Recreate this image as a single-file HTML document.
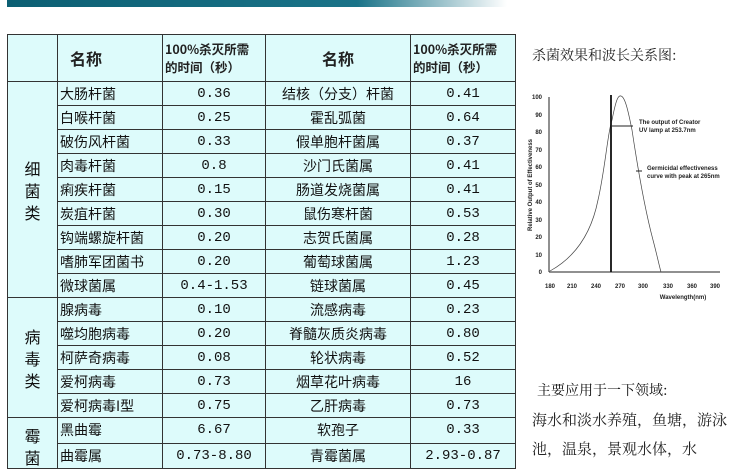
<!DOCTYPE html>
<html><head><meta charset="utf-8"><style>
body{margin:0;width:750px;height:463px;overflow:hidden;background:#fff;position:relative;font-family:"Liberation Sans","Noto Sans CJK SC",sans-serif}
.ban{position:absolute;left:7px;top:0;width:500px;height:7px;background:linear-gradient(90deg,#0c5f73 0%,#1a7388 70%,#fff 100%)}
table{position:absolute;left:7px;top:34px;border-collapse:collapse;background:#ddfbfb;font-family:"Noto Sans CJK SC",sans-serif;font-size:14px;color:#111}
td{border:1px solid #333;height:23px;padding:0 2px;text-align:center;white-space:nowrap;overflow:hidden}
td.l{text-align:left}
td.m{font-family:"Liberation Mono",monospace;font-size:14px}
tr.h td{height:46px}
.h .s{font-size:12.5px;font-weight:bold;text-align:left;line-height:18px;color:#222}
.h .n{font-size:16px;font-weight:bold;color:#222}
.c{line-height:22px;font-size:16px}
.t{position:absolute;font-family:"Noto Serif CJK SC",serif;color:#222}
</style></head><body>
<div class="ban"></div>
<table>
<colgroup><col style="width:50px"><col style="width:105px"><col style="width:103px"><col style="width:145px"><col style="width:105px"></colgroup>
<tr class="h"><td></td><td class="n l" style="padding-left:12px">名称</td><td class="s">100%杀灭所需<br>的时间（秒）</td><td class="n">名称</td><td class="s">100%杀灭所需<br>的时间（秒）</td></tr>
<tr><td rowspan="9" class="c">细<br>菌<br>类</td><td class="l">大肠杆菌</td><td class="m">0.36</td><td>结核（分支）杆菌</td><td class="m">0.41</td></tr>
<tr><td class="l">白喉杆菌</td><td class="m">0.25</td><td>霍乱弧菌</td><td class="m">0.64</td></tr>
<tr><td class="l">破伤风杆菌</td><td class="m">0.33</td><td>假单胞杆菌属</td><td class="m">0.37</td></tr>
<tr><td class="l">肉毒杆菌</td><td class="m">0.8</td><td>沙门氏菌属</td><td class="m">0.41</td></tr>
<tr><td class="l">痢疾杆菌</td><td class="m">0.15</td><td>肠道发烧菌属</td><td class="m">0.41</td></tr>
<tr><td class="l">炭疽杆菌</td><td class="m">0.30</td><td>鼠伤寒杆菌</td><td class="m">0.53</td></tr>
<tr><td class="l">钩端螺旋杆菌</td><td class="m">0.20</td><td>志贺氏菌属</td><td class="m">0.28</td></tr>
<tr><td class="l">嗜肺军团菌书</td><td class="m">0.20</td><td>葡萄球菌属</td><td class="m">1.23</td></tr>
<tr><td class="l">微球菌属</td><td class="m">0.4-1.53</td><td>链球菌属</td><td class="m">0.45</td></tr>
<tr><td rowspan="5" class="c">病<br>毒<br>类</td><td class="l">腺病毒</td><td class="m">0.10</td><td>流感病毒</td><td class="m">0.23</td></tr>
<tr><td class="l">噬均胞病毒</td><td class="m">0.20</td><td>脊髓灰质炎病毒</td><td class="m">0.80</td></tr>
<tr><td class="l">柯萨奇病毒</td><td class="m">0.08</td><td>轮状病毒</td><td class="m">0.52</td></tr>
<tr><td class="l">爱柯病毒</td><td class="m">0.73</td><td>烟草花叶病毒</td><td class="m">16</td></tr>
<tr><td class="l">爱柯病毒I型</td><td class="m">0.75</td><td>乙肝病毒</td><td class="m">0.73</td></tr>
<tr><td rowspan="2" class="c" style="vertical-align:top;padding-top:6px">霉<br>菌</td><td class="l">黑曲霉</td><td class="m">6.67</td><td>软孢子</td><td class="m">0.33</td></tr>
<tr><td class="l">曲霉属</td><td class="m">0.73-8.80</td><td>青霉菌属</td><td class="m">2.93-0.87</td></tr>
</table>
<div class="t" style="left:532px;top:45px;font-size:14px">杀菌效果和波长关系图:</div>
<svg style="position:absolute;left:520px;top:80px" width="230" height="230" viewBox="0 0 230 230" font-family="Liberation Sans,sans-serif" font-size="6" font-weight="bold" fill="#222">
<line x1="29" y1="17" x2="29" y2="192" stroke="#222" stroke-width="1"/>
<line x1="29" y1="192" x2="200" y2="192" stroke="#222" stroke-width="1"/>
<g text-anchor="end">
<text x="22" y="194">0</text><text x="22" y="177">10</text><text x="22" y="159">20</text><text x="22" y="142">30</text><text x="22" y="124">40</text><text x="22" y="107">50</text><text x="22" y="89">60</text><text x="22" y="72">70</text><text x="22" y="54">80</text><text x="22" y="37">90</text><text x="22" y="19">100</text></g>
<g text-anchor="middle">
<text x="30" y="208">180</text><text x="52" y="208">210</text><text x="76" y="208">240</text><text x="100" y="208">270</text><text x="123" y="208">300</text><text x="148" y="208">330</text><text x="172" y="208">360</text><text x="195" y="208">390</text></g>
<text x="163" y="219" text-anchor="middle">Wavelength(nm)</text>
<text transform="translate(12,105) rotate(-90)" text-anchor="middle">Relative Output of Effectiveness</text>
<path d="M30,191 C50,180 70,160 78,120 C85,90 88,50 92,40 C96,20 98,15 101,16 C105,17 108,30 112,50 C118,90 125,130 133,160 C137,175 139,185 141,192" fill="none" stroke="#444" stroke-width="0.7"/>
<line x1="91" y1="15" x2="91" y2="192" stroke="#111" stroke-width="1.8"/>
<line x1="92" y1="46" x2="113" y2="46" stroke="#222" stroke-width="1"/>
<text x="119" y="44">The output of Creator</text><text x="119" y="52">UV lamp at 253.7nm</text>
<line x1="116" y1="91" x2="122" y2="91" stroke="#222" stroke-width="1"/>
<text x="127" y="90">Germicidal effectiveness</text><text x="127" y="98">curve with peak at 265nm</text>
</svg>
<div class="t" style="left:537px;top:380px;font-size:14px;color:#111">主要应用于一下领域:</div>
<div class="t" style="left:532px;top:405px;font-size:15px;line-height:29px;width:200px">海水和淡水养殖，鱼塘，游泳池，温泉，景观水体，水</div>
</body></html>
